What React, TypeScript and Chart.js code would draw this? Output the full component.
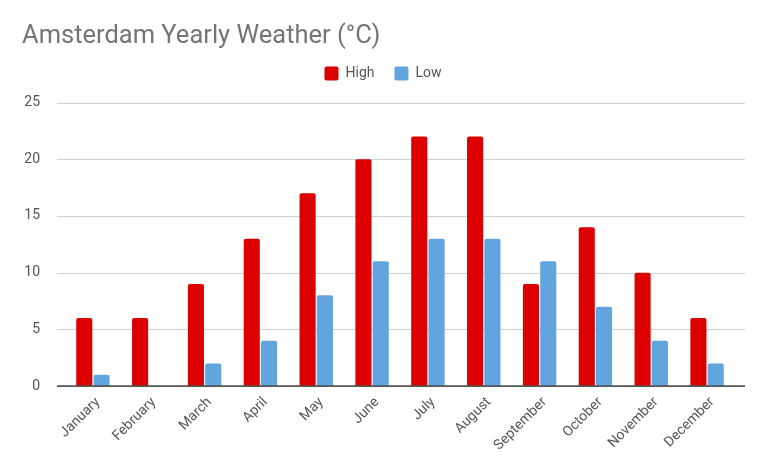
import React, { useEffect, useRef } from "react";
import { Chart, registerables } from "chart.js";

Chart.register(...registerables);

const months = [
  "January", "February", "March", "April", "May", "June",
  "July", "August", "September", "October", "November", "December",
];
const highs = [6, 6, 9, 13, 17, 20, 22, 22, 9, 14, 10, 6];
const lows = [1, 0, 2, 4, 8, 11, 13, 13, 11, 7, 4, 2];
const yTicks = [0, 5, 10, 15, 20, 25];

const FONT = "Roboto, 'Noto Sans', Arial, sans-serif";

const gridPlugin = {
  id: "customGrid",
  beforeLayout(chart: any) {
    const legend = chart.legend;
    if (legend && !legend.__patched) {
      const orig = legend.fit.bind(legend);
      legend.fit = function () {
        orig();
        this.height += 12;
      };
      legend.__patched = true;
    }
  },
  beforeDatasetsDraw(chart: any) {
    const { ctx, chartArea, scales } = chart;
    const y = scales.y;
    ctx.save();
    ctx.strokeStyle = "#d0d0d0";
    ctx.lineWidth = 1;
    yTicks.forEach((v) => {
      if (v === 0) return;
      const py = Math.round(y.getPixelForValue(v)) + 0.5;
      ctx.beginPath();
      ctx.moveTo(chartArea.left - 8, py);
      ctx.lineTo(chartArea.right + 10, py);
      ctx.stroke();
    });
    ctx.restore();
  },
  afterDatasetsDraw(chart: any) {
    const { ctx, chartArea, scales } = chart;
    const y = scales.y;
    ctx.save();
    ctx.strokeStyle = "#555555";
    ctx.lineWidth = 1.6;
    const py = y.getPixelForValue(0);
    ctx.beginPath();
    ctx.moveTo(chartArea.left - 8, py);
    ctx.lineTo(chartArea.right + 10, py);
    ctx.stroke();
    ctx.restore();
  },
};

export default function App() {
  const ref = useRef<HTMLCanvasElement | null>(null);

  useEffect(() => {
    if (!ref.current) return;
    const chart = new Chart(ref.current, {
      type: "bar",
      data: {
        labels: months,
        datasets: [
          {
            label: "High",
            data: highs,
            backgroundColor: "#dc0000",
            borderRadius: 2,
            borderSkipped: "bottom",
            categoryPercentage: 0.62,
            barPercentage: 0.93,
          },
          {
            label: "Low",
            data: lows,
            backgroundColor: "#62a4de",
            borderRadius: 2,
            borderSkipped: "bottom",
            categoryPercentage: 0.62,
            barPercentage: 0.93,
          },
        ],
      },
      options: {
        responsive: false,
        animation: false,
        layout: { padding: { left: 22, right: 24, top: 0, bottom: 20 } },
        plugins: {
          title: {
            display: true,
            text: "Amsterdam Yearly Weather (°C)",
            align: "start",
            color: "#757575",
            font: { family: FONT, size: 25.5, weight: "normal", lineHeight: 1 },
            padding: { top: 24, bottom: -3 },
          },
          legend: {
            display: true,
            position: "top",
            align: "center",
            labels: {
              boxWidth: 14,
              boxHeight: 14,
              padding: 20,
              color: "#555555",
              useBorderRadius: true,
              borderRadius: 2,
              font: { family: FONT, size: 14 },
            },
          },
          tooltip: { enabled: false },
        },
        scales: {
          x: {
            grid: { display: false },
            border: { display: false },
            ticks: {
              autoSkip: false,
              minRotation: 45,
              maxRotation: 45,
              color: "#555555",
              font: { family: FONT, size: 14 },
              padding: 0,
              labelOffset: 5,
            },
          },
          y: {
            min: 0,
            max: 25,
            grid: { display: false },
            border: { display: false },
            afterBuildTicks: (scale: any) => {
              scale.ticks = yTicks.map((v) => ({ value: v }));
            },
            afterFit: (scale: any) => {
              scale.width = 43;
            },
            ticks: {
              color: "#555555",
              padding: 17,
              font: { family: FONT, size: 14 },
            },
          },
          yR: {
            position: "right",
            display: true,
            grid: { display: false },
            border: { display: false },
            ticks: { display: false },
            afterFit: (scale: any) => {
              scale.width = 9;
            },
          },
        },
      },
      plugins: [gridPlugin],
    });
    return () => chart.destroy();
  }, []);

  return (
    <div style={{ position: "absolute", left: 0, top: 0, width: 768, height: 474, background: "#fff" }}>
      <canvas ref={ref} width={768} height={474} />
    </div>
  );
}
